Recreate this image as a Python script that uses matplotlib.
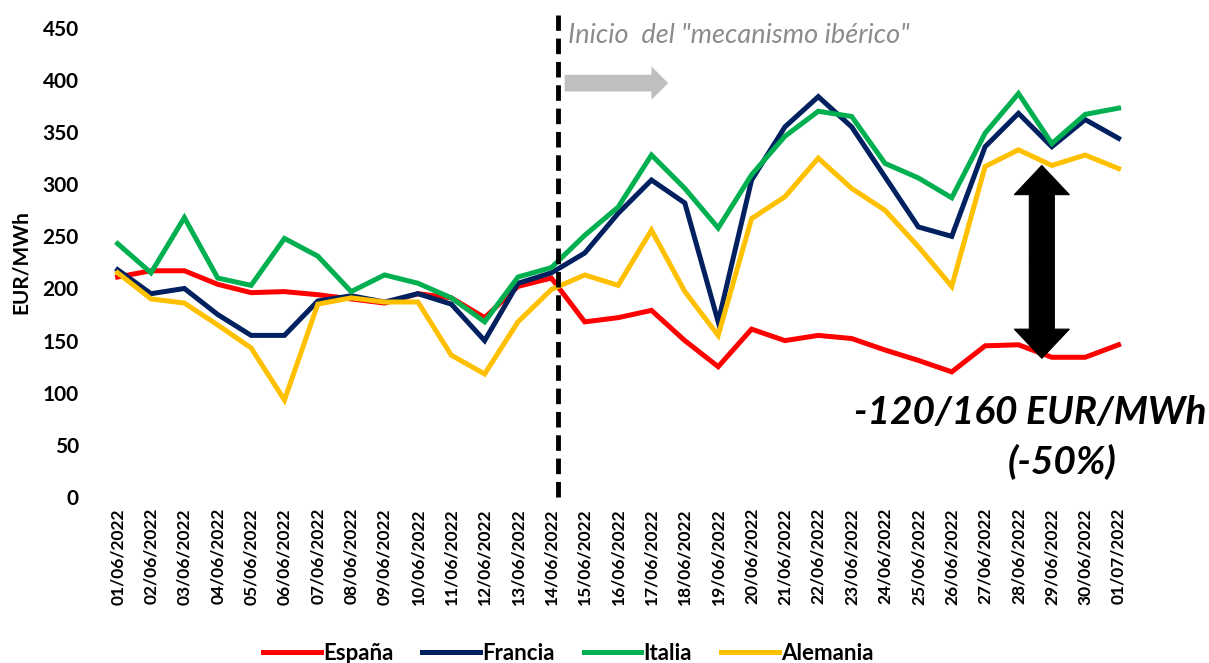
import matplotlib.pyplot as plt
from matplotlib.patches import FancyArrow

# Datos (EUR/MWh)
fechas = ["01/06/2022", "02/06/2022", "03/06/2022", "04/06/2022", "05/06/2022", "06/06/2022",
          "07/06/2022", "08/06/2022", "09/06/2022", "10/06/2022", "11/06/2022", "12/06/2022",
          "13/06/2022", "14/06/2022", "15/06/2022", "16/06/2022", "17/06/2022", "18/06/2022",
          "19/06/2022", "20/06/2022", "21/06/2022", "22/06/2022", "23/06/2022", "24/06/2022",
          "25/06/2022", "26/06/2022", "27/06/2022", "28/06/2022", "29/06/2022", "30/06/2022",
          "01/07/2022"]
espana = [211, 217, 217, 204, 196, 197, 194, 190, 186, 195, 191, 172, 202, 210, 168, 172,
          179, 150, 125, 161, 150, 155, 152, 141, 131, 120, 145, 146, 134, 134, 146]
francia = [218, 195, 200, 175, 155, 155, 188, 193, 187, 195, 185, 150, 205, 215, 234, 272,
           304, 282, 168, 304, 355, 384, 355, 307, 259, 250, 336, 368, 336, 362, 344]
italia = [243, 215, 268, 210, 203, 248, 231, 197, 213, 205, 191, 168, 211, 220, 251, 278,
          328, 296, 258, 309, 346, 370, 365, 320, 306, 287, 349, 387, 339, 367, 373]
alemania = [215, 190, 186, 165, 143, 93, 185, 191, 187, 187, 136, 118, 168, 199, 213, 203,
            256, 197, 155, 267, 288, 325, 296, 275, 240, 202, 317, 333, 318, 328, 315]

series = [("España", espana, "#ff0000"),
          ("Francia", francia, "#002060"),
          ("Italia", italia, "#00b050"),
          ("Alemania", alemania, "#ffc000")]

plt.rcParams["font.family"] = ["Lato", "DejaVu Sans"]

fig = plt.figure(figsize=(12.09, 6.63), dpi=100)
ax = fig.add_axes([0.0835, 0.2504, 0.8555, 0.7076])

x = list(range(len(fechas)))
for nombre, vals, color in series:
    ax.plot(x, vals, color=color, lw=3.6, label=nombre, solid_joinstyle="miter")

ax.set_xlim(-0.5, len(fechas) - 0.5)
ax.set_ylim(0, 450)
ax.set_yticks(range(0, 451, 50))
ax.set_xticks(x)
ax.set_xticklabels(fechas, rotation=90, fontsize=12.5, fontweight="bold")
for lbl in ax.get_yticklabels():
    lbl.set_fontsize(15)
    lbl.set_fontweight("bold")
ax.tick_params(axis="x", length=0, pad=8)
ax.tick_params(axis="y", length=0, pad=16)
for s in ax.spines.values():
    s.set_visible(False)
ax.set_ylabel("EUR/MWh", fontsize=15, fontweight="bold", labelpad=8)

# Inicio del mecanismo ibérico
ax.plot([13.2, 13.2], [0, 462], color="black", lw=3.5, ls=(0, (3.2, 1.6)), clip_on=False, zorder=5)
ax.text(13.5, 443, 'Inicio  del "mecanismo ibérico"', fontsize=19.5, style="italic",
        color="#8c8c8c", va="center", ha="left")
ax.add_patch(FancyArrow(13.4, 397, 3.1, 0, width=16, head_width=32, head_length=0.5,
                        length_includes_head=True, color="#bfbfbf", lw=0, zorder=4))

# Diferencia: flecha doble
yc = (133 + 318) / 2
for y_end in (318, 133):
    ax.add_patch(FancyArrow(27.7, yc, 0, y_end - yc, width=0.75, head_width=1.65, head_length=28,
                            length_includes_head=True, facecolor="black", edgecolor="black",
                            lw=0.8, zorder=6))
ax.text(32.65, 81, "-120/160 EUR/MWh", fontsize=28, fontweight="bold", style="italic",
        ha="right", va="center", clip_on=False)
ax.text(28.3, 34, "(-50%)", fontsize=28, fontweight="bold", style="italic",
        ha="center", va="center", clip_on=False)

fig.legend(loc="center", bbox_to_anchor=(0.47, 0.014), ncol=4, frameon=False,
           handlelength=2.6, handletextpad=0.1, columnspacing=1.3,
           prop={"size": 16, "weight": "bold"})

plt.savefig("out.png", dpi=100)
